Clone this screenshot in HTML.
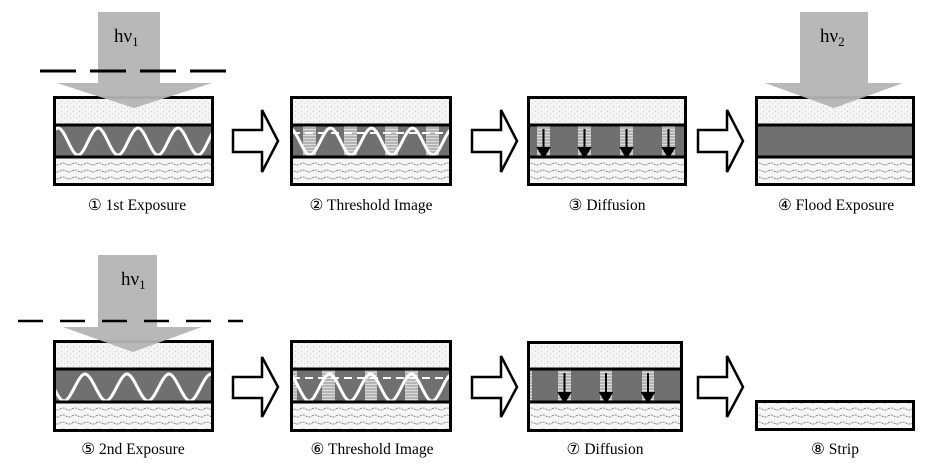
<!DOCTYPE html>
<html><head><meta charset="utf-8"><style>
html,body{margin:0;padding:0;background:#fff;}
svg{display:block;}
text{font-family:"Liberation Serif","DejaVu Serif",serif;}
</style></head><body>
<svg width="936" height="468" viewBox="0 0 936 468" xmlns="http://www.w3.org/2000/svg">
<defs>
<pattern id="dots" width="6" height="5" patternUnits="userSpaceOnUse">
<rect width="6" height="5" fill="#f4f4f4"/>
<rect x="1" y="1" width="1" height="1" fill="#c8c8c8"/>
<rect x="4" y="3" width="1" height="1" fill="#d4d4d4"/>
</pattern>
<pattern id="waves" width="12" height="7" patternUnits="userSpaceOnUse">
<rect width="12" height="7" fill="#f6f6f6"/>
<path d="M0,3 q3,-2 6,0 t6,0" stroke="#8a8a8a" stroke-width="1" fill="none" stroke-dasharray="2,1"/>
</pattern>
<pattern id="stripes" width="4" height="3" patternUnits="userSpaceOnUse">
<rect width="4" height="3" fill="#b4b4b4"/>
<rect width="4" height="1" fill="#dcdcdc"/>
</pattern>
<clipPath id="c1"><rect x="53" y="125" width="161" height="32"/></clipPath>
<clipPath id="c2"><rect x="290" y="125" width="162" height="32"/></clipPath>
<clipPath id="c5"><rect x="53" y="369" width="161" height="34"/></clipPath>
<clipPath id="c6"><rect x="290" y="369" width="162" height="34"/></clipPath>
</defs>

<!-- ===== Box 1 ===== -->
<rect x="53" y="97" width="161" height="28" fill="url(#dots)"/>
<rect x="53" y="125" width="161" height="32" fill="#707070"/>
<rect x="53" y="157" width="161" height="28" fill="url(#waves)"/>
<path clip-path="url(#c1)" d="M38,155 c7,0 13,-27 20,-27 c7,0 13,27 20,27 c7,0 13,-27 20,-27 c7,0 13,27 20,27 c7,0 13,-27 20,-27 c7,0 13,27 20,27 c7,0 13,-27 20,-27 c7,0 13,27 20,27 c7,0 13,-27 20,-27 c7,0 13,27 20,27" stroke="#fff" stroke-width="3" fill="none"/>
<rect x="54.5" y="97.5" width="158" height="87" fill="none" stroke="#000" stroke-width="3"/>
<line x1="53" y1="125" x2="214" y2="125" stroke="#000" stroke-width="3"/>
<line x1="53" y1="157" x2="214" y2="157" stroke="#000" stroke-width="3"/>
<path d="M98,12 H160 V83 H212 L134,108 L57,83 H98 Z" fill="#b4b4b4" opacity="0.95"/>
<line x1="40" y1="71" x2="227" y2="71" stroke="#000" stroke-width="3" stroke-dasharray="36,14"/>
<text x="114" y="42" font-size="19">hν<tspan font-size="13" dy="4">1</tspan></text>
<text x="137" y="210" font-size="15.5" text-anchor="middle">① 1st Exposure</text>

<!-- hollow arrows -->
<path d="M233,130 H262 V110 L278,141 L262,172 V152 H233 Z" fill="#fff" stroke="#000" stroke-width="2.5"/>
<path d="M472,130 H501 V110 L517,141 L501,172 V152 H472 Z" fill="#fff" stroke="#000" stroke-width="2.5"/>
<path d="M698,130 H727 V110 L743,141 L727,172 V152 H698 Z" fill="#fff" stroke="#000" stroke-width="2.5"/>
<path d="M233,377 H262 V357 L278,387 L262,417 V398 H233 Z" fill="#fff" stroke="#000" stroke-width="2.5"/>
<path d="M472,377 H501 V356 L517,387 L501,417 V398 H472 Z" fill="#fff" stroke="#000" stroke-width="2.5"/>
<path d="M698,377 H727 V356 L743,387 L727,417 V398 H698 Z" fill="#fff" stroke="#000" stroke-width="2.5"/>

<!-- ===== Box 2 ===== -->
<rect x="290" y="97" width="162" height="28" fill="url(#dots)"/>
<rect x="290" y="125" width="162" height="32" fill="#707070"/>
<rect x="290" y="157" width="162" height="28" fill="url(#waves)"/>
<g fill="url(#stripes)">
<rect x="303" y="125" width="13" height="32"/><rect x="344" y="125" width="13" height="32"/>
<rect x="385" y="125" width="13" height="32"/><rect x="426" y="125" width="13" height="32"/>
</g>
<path clip-path="url(#c2)" d="M269,155 c7,0 13.5,-27 20.5,-27 c7,0 13.5,27 20.5,27 c7,0 13.5,-27 20.5,-27 c7,0 13.5,27 20.5,27 c7,0 13.5,-27 20.5,-27 c7,0 13.5,27 20.5,27 c7,0 13.5,-27 20.5,-27 c7,0 13.5,27 20.5,27 c7,0 13.5,-27 20.5,-27 c7,0 13.5,27 20.5,27" stroke="#fff" stroke-width="3" fill="none"/>
<line x1="292" y1="133" x2="452" y2="133" stroke="#fff" stroke-width="2" stroke-dasharray="8,5"/>
<rect x="291.5" y="97.5" width="159" height="87" fill="none" stroke="#000" stroke-width="3"/>
<line x1="290" y1="125" x2="452" y2="125" stroke="#000" stroke-width="3"/>
<line x1="290" y1="157" x2="452" y2="157" stroke="#000" stroke-width="3"/>
<text x="371" y="210" font-size="15.5" text-anchor="middle">② Threshold Image</text>

<!-- ===== Box 3 ===== -->
<rect x="527" y="97" width="160" height="28" fill="url(#dots)"/>
<rect x="527" y="125" width="160" height="32" fill="#707070"/>
<rect x="527" y="157" width="160" height="28" fill="url(#waves)"/>
<g fill="url(#stripes)">
<rect x="537" y="125" width="13" height="32"/><rect x="578" y="125" width="13" height="32"/>
<rect x="620" y="125" width="13" height="32"/><rect x="662" y="125" width="13" height="32"/>
</g>
<g stroke="#000" stroke-width="2" fill="#000">
<line x1="543.5" y1="129" x2="543.5" y2="150"/><path d="M538,148 L543.5,157 L549,148 Z"/>
<line x1="584.5" y1="129" x2="584.5" y2="150"/><path d="M579,148 L584.5,157 L590,148 Z"/>
<line x1="626.5" y1="129" x2="626.5" y2="150"/><path d="M621,148 L626.5,157 L632,148 Z"/>
<line x1="668.5" y1="129" x2="668.5" y2="150"/><path d="M663,148 L668.5,157 L674,148 Z"/>
</g>
<rect x="528.5" y="97.5" width="157" height="87" fill="none" stroke="#000" stroke-width="3"/>
<line x1="527" y1="125" x2="687" y2="125" stroke="#000" stroke-width="3"/>
<line x1="527" y1="157" x2="687" y2="157" stroke="#000" stroke-width="3"/>
<text x="607" y="210" font-size="15.5" text-anchor="middle">③ Diffusion</text>

<!-- ===== Box 4 ===== -->
<rect x="755" y="97" width="160" height="28" fill="url(#dots)"/>
<rect x="755" y="125" width="160" height="32" fill="#707070"/>
<rect x="755" y="157" width="160" height="28" fill="url(#waves)"/>
<rect x="756.5" y="97.5" width="157" height="87" fill="none" stroke="#000" stroke-width="3"/>
<line x1="755" y1="125" x2="915" y2="125" stroke="#000" stroke-width="3"/>
<line x1="755" y1="157" x2="915" y2="157" stroke="#000" stroke-width="3"/>
<path d="M800,12 H868 V83 H903 L834,108 L765,83 H800 Z" fill="#b4b4b4" opacity="0.95"/>
<text x="820" y="42" font-size="19">hν<tspan font-size="13" dy="4">2</tspan></text>
<text x="836" y="210" font-size="15.5" text-anchor="middle">④ Flood Exposure</text>

<!-- ===== Box 5 ===== -->
<rect x="53" y="341" width="161" height="28" fill="url(#dots)"/>
<rect x="53" y="369" width="161" height="33" fill="#707070"/>
<rect x="53" y="402" width="161" height="29" fill="url(#waves)"/>
<path clip-path="url(#c5)" d="M22,401 c7,0 14,-27 21,-27 c7,0 14,27 21,27 c7,0 14,-27 21,-27 c7,0 14,27 21,27 c7,0 14,-27 21,-27 c7,0 14,27 21,27 c7,0 14,-27 21,-27 c7,0 14,27 21,27 c7,0 14,-27 21,-27 c7,0 14,27 21,27" stroke="#fff" stroke-width="3" fill="none"/>
<rect x="54.5" y="341.5" width="158" height="89" fill="none" stroke="#000" stroke-width="3"/>
<line x1="53" y1="369" x2="214" y2="369" stroke="#000" stroke-width="3"/>
<line x1="53" y1="402" x2="214" y2="402" stroke="#000" stroke-width="3"/>
<path d="M98,255 H157 V327 H202 L133,352 L63,327 H98 Z" fill="#b4b4b4" opacity="0.95"/>
<line x1="18" y1="321" x2="243" y2="321" stroke="#000" stroke-width="2.5" stroke-dasharray="25,17"/>
<text x="121" y="285" font-size="19">hν<tspan font-size="13" dy="4">1</tspan></text>
<text x="133" y="454" font-size="15.5" text-anchor="middle">⑤ 2nd Exposure</text>

<!-- ===== Box 6 ===== -->
<rect x="290" y="341" width="162" height="28" fill="url(#dots)"/>
<rect x="290" y="369" width="162" height="33" fill="#707070"/>
<rect x="290" y="402" width="162" height="29" fill="url(#waves)"/>
<g fill="url(#stripes)">
<rect x="292" y="369" width="5" height="33"/><rect x="322" y="369" width="13" height="33"/>
<rect x="365" y="369" width="12" height="33"/><rect x="405" y="369" width="13" height="33"/>
</g>
<path clip-path="url(#c6)" d="M268,401 c7,0 13.5,-27 20.5,-27 c7,0 13.5,27 20.5,27 c7,0 13.5,-27 20.5,-27 c7,0 13.5,27 20.5,27 c7,0 13.5,-27 20.5,-27 c7,0 13.5,27 20.5,27 c7,0 13.5,-27 20.5,-27 c7,0 13.5,27 20.5,27 c7,0 13.5,-27 20.5,-27 c7,0 13.5,27 20.5,27" stroke="#fff" stroke-width="3" fill="none"/>
<line x1="292" y1="378" x2="452" y2="378" stroke="#fff" stroke-width="2" stroke-dasharray="8,5"/>
<rect x="291.5" y="341.5" width="159" height="89" fill="none" stroke="#000" stroke-width="3"/>
<line x1="290" y1="369" x2="452" y2="369" stroke="#000" stroke-width="3"/>
<line x1="290" y1="402" x2="452" y2="402" stroke="#000" stroke-width="3"/>
<text x="372" y="454" font-size="15.5" text-anchor="middle">⑥ Threshold Image</text>

<!-- ===== Box 7 ===== -->
<rect x="527" y="341" width="156" height="28" fill="url(#dots)"/>
<rect x="527" y="369" width="156" height="33" fill="#707070"/>
<rect x="527" y="402" width="156" height="29" fill="url(#waves)"/>
<g fill="url(#stripes)">
<rect x="527" y="369" width="5" height="33"/><rect x="558" y="369" width="13" height="33"/>
<rect x="600" y="369" width="12" height="33"/><rect x="642" y="369" width="12" height="33"/>
</g>
<g stroke="#000" stroke-width="2" fill="#000">
<line x1="564.5" y1="373" x2="564.5" y2="395"/><path d="M559,393 L564.5,402 L570,393 Z"/>
<line x1="606" y1="373" x2="606" y2="395"/><path d="M600.5,393 L606,402 L611.5,393 Z"/>
<line x1="648" y1="373" x2="648" y2="395"/><path d="M642.5,393 L648,402 L653.5,393 Z"/>
</g>
<rect x="528.5" y="342.5" width="153" height="88" fill="none" stroke="#000" stroke-width="3"/>
<line x1="527" y1="369" x2="683" y2="369" stroke="#000" stroke-width="3"/>
<line x1="527" y1="402" x2="683" y2="402" stroke="#000" stroke-width="3"/>
<text x="605" y="454" font-size="15.5" text-anchor="middle">⑦ Diffusion</text>

<!-- ===== Box 8 ===== -->
<rect x="755" y="401" width="160" height="29" fill="url(#waves)"/>
<rect x="756.5" y="401.5" width="157" height="28" fill="none" stroke="#000" stroke-width="3"/>
<text x="835" y="454" font-size="15.5" text-anchor="middle">⑧ Strip</text>
</svg>
</body></html>
